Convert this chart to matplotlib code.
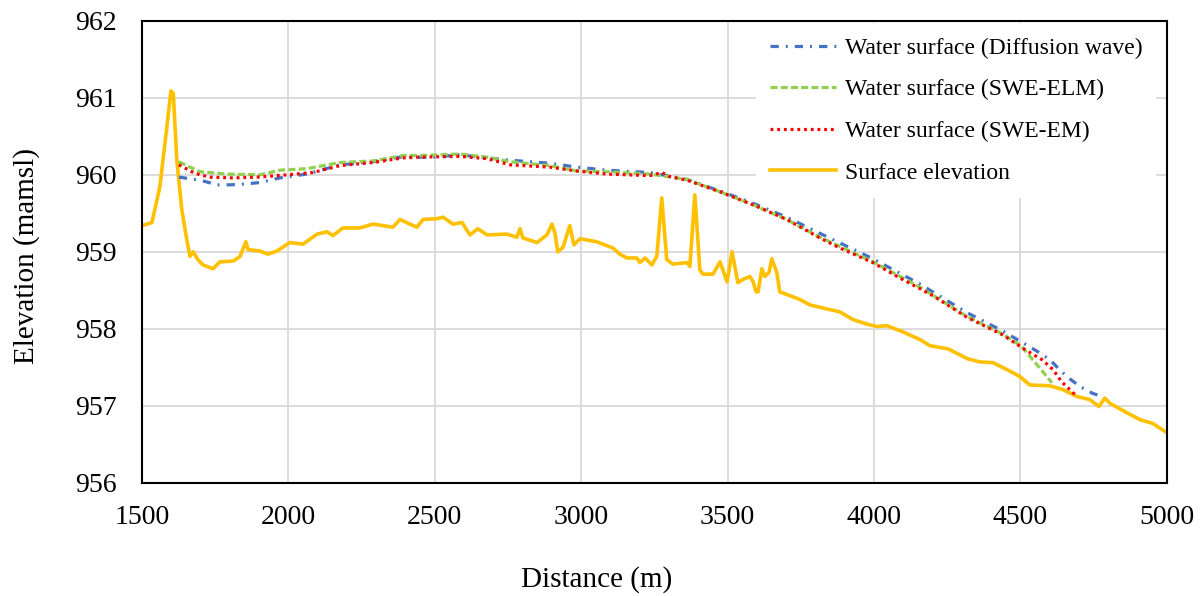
import matplotlib
matplotlib.use('Agg')
from matplotlib import pyplot as plt

plt.rcParams['font.family'] = ['Liberation Serif', 'DejaVu Serif']

# Ground profile along the channel (distance in m, elevation in mamsl)
surf_x = [1500, 1534, 1561, 1585, 1599, 1607, 1619, 1636, 1653, 1664,
          1675, 1691, 1708, 1743, 1766, 1812, 1835, 1855, 1862, 1903,
          1930, 1961, 2005, 2050, 2098, 2132, 2152, 2186, 2244, 2289,
          2357, 2381, 2415, 2439, 2460, 2507, 2528, 2562, 2593, 2620,
          2647, 2678, 2746, 2780, 2791, 2801, 2849, 2883, 2900, 2910,
          2920, 2938, 2961, 2975, 2996, 3053, 3108, 3132, 3156, 3190,
          3200, 3218, 3241, 3258, 3275, 3292, 3313, 3361, 3371, 3388,
          3405, 3415, 3450, 3474, 3498, 3515, 3535, 3552, 3576, 3587,
          3597, 3604, 3617, 3627, 3641, 3651, 3668, 3678, 3747, 3781,
          3825, 3883, 3928, 3976, 4010, 4044, 4078, 4099, 4133, 4157,
          4191, 4252, 4320, 4361, 4406, 4454, 4498, 4532, 4600, 4645,
          4693, 4737, 4768, 4788, 4806, 4863, 4908, 4952, 5000]
surf_e = [959.34, 959.38, 959.84, 960.62, 961.09, 961.06, 960.19, 959.55, 959.16, 958.94,
          959.00, 958.90, 958.83, 958.78, 958.87, 958.88, 958.94, 959.13, 959.03, 959.01,
          958.97, 959.01, 959.12, 959.10, 959.23, 959.26, 959.21, 959.31, 959.31, 959.36,
          959.32, 959.42, 959.36, 959.32, 959.42, 959.43, 959.45, 959.36, 959.38, 959.22,
          959.30, 959.22, 959.23, 959.19, 959.30, 959.18, 959.12, 959.22, 959.36, 959.25,
          959.00, 959.06, 959.34, 959.09, 959.17, 959.13, 959.05, 958.97, 958.92, 958.92,
          958.86, 958.92, 958.83, 958.94, 959.70, 958.90, 958.84, 958.86, 958.81, 959.74,
          958.77, 958.71, 958.71, 958.87, 958.61, 959.00, 958.60, 958.64, 958.68, 958.61,
          958.48, 958.48, 958.78, 958.68, 958.73, 958.91, 958.73, 958.48, 958.38, 958.31,
          958.27, 958.22, 958.12, 958.06, 958.03, 958.04, 957.99, 957.96, 957.90, 957.86,
          957.78, 957.74, 957.61, 957.57, 957.56, 957.47, 957.38, 957.27, 957.26, 957.21,
          957.12, 957.08, 956.99, 957.10, 957.03, 956.91, 956.82, 956.77, 956.65]

# Diffusion wave water surface
dif_x = [1626, 1700, 1756, 1800, 1850, 1903, 1971, 2063, 2176, 2289,
         2381, 2494, 2586, 2678, 2757, 2893, 2985, 3088, 3234, 3361,
         3474, 3587, 3702, 3815, 3996, 4157, 4317, 4440, 4556, 4600,
         4628, 4658, 4703, 4747, 4781]
dif_e = [959.97, 959.93, 959.87, 959.87, 959.88, 959.90, 959.96, 960.01, 960.13, 960.17,
         960.23, 960.23, 960.26, 960.22, 960.19, 960.15, 960.10, 960.06, 960.03, 959.94,
         959.79, 959.63, 959.45, 959.24, 958.91, 958.58, 958.21, 957.97, 957.71, 957.60,
         957.49, 957.38, 957.25, 957.16, 957.12]

# SWE-ELM water surface
elm_x = [1626, 1698, 1790, 1903, 1971, 2063, 2176, 2289, 2391, 2449,
         2586, 2678, 2757, 2893, 2985, 3088, 3234, 3361, 3474, 3587,
         3702, 3815, 3996, 4157, 4317, 4440, 4504, 4566, 4607]
elm_e = [960.17, 960.04, 960.01, 960.00, 960.06, 960.08, 960.16, 960.18, 960.25, 960.25,
         960.27, 960.23, 960.17, 960.12, 960.05, 960.04, 960.01, 959.94, 959.78, 959.61,
         959.42, 959.19, 958.87, 958.54, 958.16, 957.93, 957.77, 957.49, 957.30]

# SWE-EM water surface
em_x = [1626, 1680, 1732, 1812, 1893, 1995, 2084, 2176, 2289, 2391,
        2449, 2586, 2678, 2757, 2893, 2985, 3088, 3234, 3276, 3300,
        3361, 3474, 3587, 3702, 3815, 3883, 3996, 4088, 4157, 4201,
        4317, 4440, 4515, 4573, 4611, 4641, 4693]
em_e = [960.13, 960.02, 959.97, 959.96, 959.97, 960.00, 960.03, 960.12, 960.16, 960.22,
        960.23, 960.24, 960.21, 960.13, 960.10, 960.05, 960.01, 959.99, 960.03, 959.98,
        959.93, 959.78, 959.61, 959.42, 959.18, 959.05, 958.86, 958.66, 958.52, 958.43,
        958.15, 957.92, 957.73, 957.60, 957.47, 957.31, 957.12]

x_ticks = [1500, 2000, 2500, 3000, 3500, 4000, 4500, 5000]
y_ticks = [956, 957, 958, 959, 960, 961, 962]

fig = plt.figure(figsize=(12.03, 5.96), dpi=100)
ax = fig.add_axes([0.118, 0.19, 0.852, 0.775])

lw = 2.3
ax.plot(dif_x, dif_e, color='#4472C4', lw=lw, linestyle=(0, (2.6, 2.2, 0.6, 2.2)),
        label='Water surface (Diffusion wave)', zorder=3)
ax.plot(elm_x, elm_e, color='#92D050', lw=lw, linestyle=(0, (2.2, 1.0)),
        label='Water surface (SWE-ELM)', zorder=3)
ax.plot(em_x, em_e, color='#FF0000', lw=lw, linestyle=(0, (0.9, 1.2)),
        label='Water surface (SWE-EM)', zorder=4)
ax.plot(surf_x, surf_e, color='#FFC000', lw=2.6, label='Surface elevation', zorder=2)

ax.set_xlim(1500, 5000)
ax.set_ylim(956, 962)
ax.set_xticks(x_ticks)
ax.set_yticks(y_ticks)
ax.grid(True, color='#D9D9D9', linewidth=1.3)
ax.set_axisbelow(True)
ax.tick_params(length=0, labelsize=20)
ax.tick_params(axis='x', pad=16)
ax.tick_params(axis='y', pad=18)
for s in ax.spines.values():
    s.set_color('black')
    s.set_linewidth(1.5)

ax.set_xlabel('Distance (m)', fontsize=21)
ax.set_ylabel('Elevation (mamsl)', fontsize=21)
ax.xaxis.set_label_coords(0.444, -0.18)
ax.yaxis.set_label_coords(-0.099, 0.49)

leg = ax.legend(loc='upper right', bbox_to_anchor=(0.992, 1.0), fontsize=17,
                frameon=True, fancybox=False, edgecolor='none', facecolor='white',
                framealpha=1, handlelength=2.8, handletextpad=0.35,
                labelspacing=0.85, borderaxespad=0.1, borderpad=0.6)

fig.savefig('out.png', dpi=100)
